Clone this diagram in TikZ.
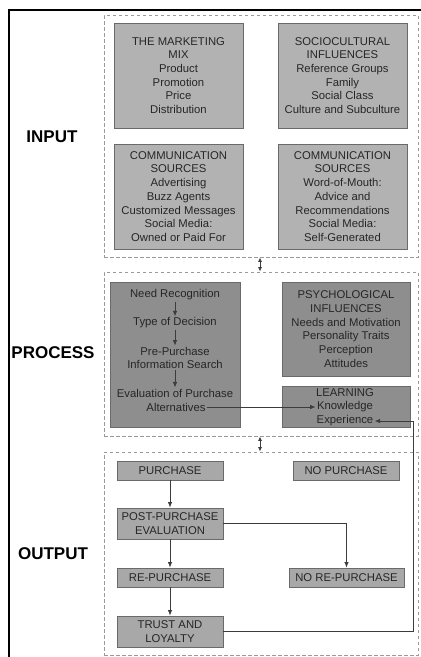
\documentclass[tikz,border=0pt]{standalone}
\usepackage{fontspec}
\setmainfont{Liberation Sans}
\usetikzlibrary{arrows.meta}
\definecolor{txt}{HTML}{262626}
\definecolor{lightbox}{HTML}{B2B2B2}
\definecolor{darkbox}{HTML}{8E8E8E}
\definecolor{outbox}{HTML}{A8A8A8}
\definecolor{edge}{HTML}{6A6A6A}
\definecolor{dashc}{HTML}{9A9A9A}
\definecolor{conn}{HTML}{3C3C3C}
\tikzset{
  boxfont/.style={font=\fontsize{11.3}{13.7}\selectfont, text=txt},
  gbox/.style={draw=edge, line width=0.9pt, inner sep=0pt, align=center, boxfont},
  inbox/.style={gbox, fill=lightbox, minimum width=129pt, minimum height=105pt},
  procbox/.style={gbox, fill=darkbox},
  obox/.style={gbox, fill=outbox, minimum width=106pt},
  plain/.style={inner sep=1.2pt, align=center, boxfont},
  section/.style={draw=dashc, dash pattern=on 3.5pt off 2.5pt, line width=0.9pt, inner sep=0pt},
  sectlabel/.style={font=\fontsize{17}{20}\selectfont\bfseries, text=black},
  conn/.style={draw=conn, line width=0.75pt, -{Latex[length=5.5pt,width=4.5pt]}},
  dconn/.style={draw=conn, line width=0.75pt, {Latex[length=4.5pt,width=4pt]}-{Latex[length=4.5pt,width=4pt]}}
}
\begin{document}
\begin{tikzpicture}[x=1pt,y=-1pt]
\useasboundingbox (0,0) rectangle (421,657);
% outer frame
\draw[line width=2pt, black] (421,10) -- (9,10) -- (9,657);
% sections
\node[section, minimum width=314pt, minimum height=242pt] (insec) at (261,136) {};
\node[section, minimum width=314pt, minimum height=164pt] (procsec) at (261,354) {};
\node[section, minimum width=314pt, minimum height=203pt] (outsec) at (261,553.5) {};
% section labels
\node[sectlabel] (inlab) at (52,137) {INPUT};
\node[sectlabel] (proclab) at (53,353) {PROCESS};
\node[sectlabel] (outlab) at (53,554) {OUTPUT};
% input boxes
\node[inbox] (mix) at (178.5,75.5) {THE MARKETING\\MIX\\Product\\Promotion\\Price\\Distribution};
\node[inbox] (socio) at (342.5,75.5) {SOCIOCULTURAL\\INFLUENCES\\Reference Groups\\Family\\Social Class\\Culture and Subculture};
\node[inbox] (comml) at (178.5,196.5) {COMMUNICATION\\SOURCES\\Advertising\\Buzz Agents\\Customized Messages\\Social Media:\\Owned or Paid For};
\node[inbox] (commr) at (342.5,196.5) {COMMUNICATION\\SOURCES\\Word-of-Mouth:\\Advice and\\Recommendations\\Social Media:\\Self-Generated};
% process boxes
\node[procbox, minimum width=130pt, minimum height=145pt] (decbox) at (175,354.5) {};
\node[procbox, minimum width=128pt, minimum height=94pt] (psych) at (346,329) {PSYCHOLOGICAL\\INFLUENCES\\Needs and Motivation\\Personality Traits\\Perception\\Attitudes};
\node[procbox, minimum width=128pt, minimum height=41pt] (learn) at (346,406.5) {};
% decision texts
\node[plain] (need) at (175,295) {Need Recognition};
\node[plain] (type) at (175,323) {Type of Decision};
\node[plain] (pre) at (175,358) {Pre-Purchase\\Information Search};
\node[plain] (eval) at (175,393) {Evaluation of Purchase};
\node[plain] (alt) at (176,407) {Alternatives};
% learning texts
\node[plain] (lrn) at (345,393) {LEARNING};
\node[plain] (know) at (345,407) {Knowledge};
\node[plain] (exp) at (345,421) {Experience};
% output boxes
\node[obox, minimum height=19pt] (purch) at (170,470.5) {PURCHASE};
\node[obox, minimum height=19pt] (nopurch) at (346,470.5) {NO PURCHASE};
\node[obox, minimum height=31pt] (post) at (170,523.5) {POST-PURCHASE\\EVALUATION};
\node[obox, minimum height=19pt] (repurch) at (170,577.5) {RE-PURCHASE};
\node[obox, minimum height=19pt, minimum width=115pt] (norepurch) at (346.5,577.5) {NO RE-PURCHASE};
\node[obox, minimum height=31pt] (trust) at (170,631.5) {TRUST AND\\LOYALTY};
% connectors
\draw[conn] (need) -- (type);
\draw[conn] (type) -- (pre);
\draw[conn] (pre) -- (eval);
\draw[conn] (alt.east) -- (know.west);
\draw[conn] (purch) -- (post);
\draw[conn] (post) -- (repurch);
\draw[conn] (repurch) -- (trust);
\draw[conn] (post.east) -| (norepurch.north);
\coordinate (loopx) at (413,500);
\draw[conn] (trust.east) -- (trust.east -| loopx) -- (exp.east -| loopx) -- (exp.east);
\coordinate (dx) at (260,0);
\draw[dconn] (insec.south -| dx) -- (procsec.north -| dx);
\draw[dconn] (procsec.south -| dx) -- (outsec.north -| dx);
\end{tikzpicture}
\end{document}
